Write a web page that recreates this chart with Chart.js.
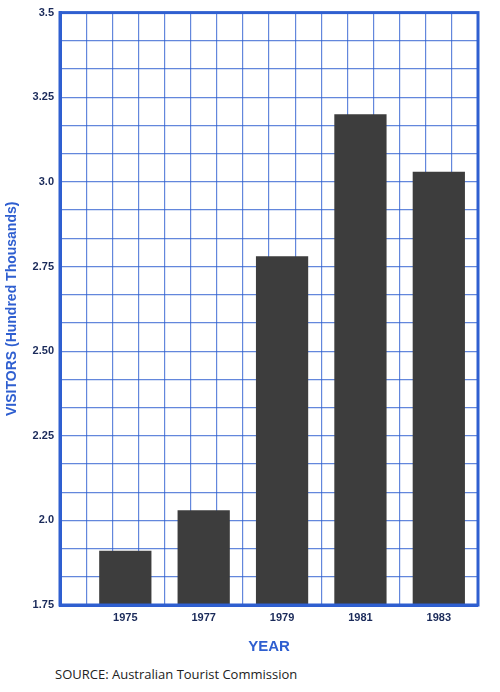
<!DOCTYPE html>
<html><head>
<script src="https://cdn.jsdelivr.net/npm/chart.js@4"></script>
<style>
body{margin:0;background:#fff;}
#wrap{position:relative;width:500px;height:660px;}
#src{position:absolute;left:55px;top:665px;font:13px 'Open Sans',sans-serif;color:#222;}
</style></head>
<body>
<div id="wrap"><canvas id="c"></canvas></div>
<div id="src">SOURCE: Australian Tourist Commission</div>
<script>
const years = ['1975', '1977', '1979', '1981', '1983'];
const visitors = [1.91, 2.03, 2.78, 3.2, 3.03];
const yTickLabels = {'1.75': '1.75', '2': '2.0', '2.25': '2.25', '2.5': '2.50', '2.75': '2.75', '3': '3.0', '3.25': '3.25', '3.5': '3.5'};

const blue = '#2f5fd0';
new Chart(document.getElementById('c'), {
  type: 'bar',
  data: {
    datasets: [{
      data: visitors.map((v, i) => ({x: i, y: v})),
      backgroundColor: '#3d3d3d',
      barPercentage: 2,
      categoryPercentage: 1,
      borderWidth: 0
    }]
  },
  options: {
    responsive: true, maintainAspectRatio: false, animation: false,
    layout: {padding: {top: 10, right: 22, left: 0}},
    plugins: {legend: {display: false}, tooltip: {enabled: false}},
    scales: {
      x: {
        type: 'linear', min: -2 / 3, max: 13 / 3, z: 1,
        afterBuildTicks: s => { s.ticks = []; for (let i = -2; i <= 13; i++) s.ticks.push({value: i / 3}); },
        afterFit: s => { s.height = 55; },
        grid: {color: 'rgba(47,95,208,0.75)', lineWidth: 1.2, drawTicks: false},
        border: {color: blue, width: 3},
        ticks: {
          padding: 6, autoSkip: false, maxRotation: 0, color: '#1a2a5a',
          font: {family: 'Liberation Sans', size: 11, weight: 'bold'},
          callback: v => { const i = Math.round(v * 3); return i % 3 === 0 && i >= 0 ? years[i / 3] : ''; }
        },
        title: {display: true, text: 'YEAR', color: blue, padding: {top: 4}, font: {family: 'Liberation Sans', size: 15, weight: 'bold'}}
      },
      y: {
        min: 1.75, max: 3.5, z: 1,
        afterBuildTicks: s => { s.ticks = []; for (let i = 0; i <= 21; i++) s.ticks.push({value: 1.75 + i / 12}); },
        afterFit: s => { s.width = 60; },
        grid: {color: 'rgba(47,95,208,0.75)', lineWidth: 1.2, drawTicks: false},
        border: {color: blue, width: 3},
        ticks: {
          padding: 6, autoSkip: false, color: '#1a2a5a',
          font: {family: 'Liberation Sans', size: 11, weight: 'bold'},
          callback: v => { const i = Math.round((v - 1.75) * 12); return i % 3 === 0 ? yTickLabels[String(1.75 + i / 12)] : ''; }
        },
        title: {display: true, text: 'VISITORS (Hundred Thousands)', color: blue, padding: {bottom: 2}, font: {family: 'Liberation Sans', size: 14, weight: 'bold'}}
      }
    }
  },
  plugins: [{
    id: 'frame',
    afterDraw: ch => {
      const a = ch.chartArea, c = ch.ctx;
      c.save(); c.strokeStyle = blue; c.lineWidth = 3;
      c.strokeRect(a.left, a.top, a.right - a.left, a.bottom - a.top); c.restore();
    }
  }]
});
</script>
</body></html>
